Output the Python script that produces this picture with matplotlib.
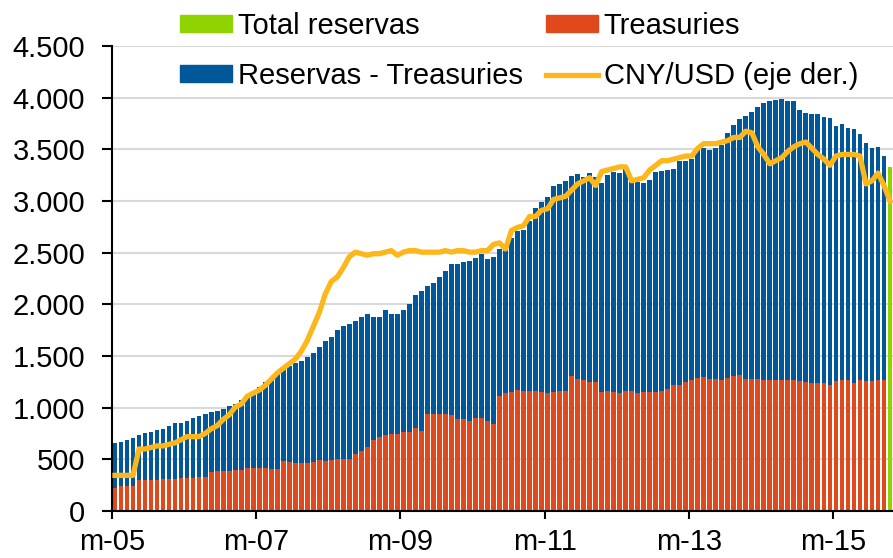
import numpy as np
import matplotlib.pyplot as plt
from matplotlib.ticker import FuncFormatter
from matplotlib.patches import Patch
from matplotlib.lines import Line2D

plt.rcParams['font.family'] = ['Liberation Sans', 'DejaVu Sans']

# meses: mar-05 ... dic-15
tick_labels = ["m-05", "m-07", "m-09", "m-11", "m-13", "m-15"]

# reservas totales (mm USD)
total = [661, 668, 690, 706, 732, 755, 768, 784, 794, 823, 848, 852, 874, 897, 923, 942, 955, 971, 990, 1013, 1035, 1071, 1116, 1160, 1200,
         1245, 1287, 1329, 1371, 1403, 1435, 1452, 1494, 1529, 1587, 1642, 1681, 1755, 1794, 1810, 1842, 1881, 1903, 1874, 1881, 1942, 1906, 1906, 1948, 2006,
         2087, 2129, 2174, 2210, 2268, 2326, 2390, 2394, 2413, 2419, 2445, 2487, 2435, 2455, 2535, 2558, 2645, 2706, 2719, 2803, 2929, 2990, 3039, 3142, 3165,
         3197, 3242, 3258, 3235, 3268, 3235, 3177, 3252, 3277, 3274, 3313, 3187, 3187, 3171, 3203, 3284, 3290, 3297, 3310, 3390, 3390, 3403, 3494, 3510, 3494,
         3510, 3545, 3661, 3735, 3790, 3823, 3865, 3913, 3945, 3971, 3977, 3987, 3968, 3968, 3881, 3848, 3842, 3839, 3810, 3800, 3729, 3745, 3703, 3694, 3648,
         3558, 3516, 3526, 3435, 3326]

# tenencia de Treasuries (sin dato el ultimo mes)
treasuries = [226, 239, 239, 239, 297, 300, 302, 304, 306, 309, 312, 315, 318, 322, 326, 330, 381, 387, 390, 392, 396, 398, 413, 415, 414,
              413, 406, 406, 481, 471, 468, 461, 461, 477, 494, 487, 490, 503, 503, 503, 552, 577, 619, 687, 716, 732, 742, 745, 768, 761,
              800, 774, 939, 935, 939, 939, 926, 894, 887, 874, 897, 897, 868, 842, 1116, 1139, 1152, 1171, 1161, 1158, 1158, 1152, 1142, 1152, 1158,
              1161, 1310, 1274, 1268, 1252, 1252, 1152, 1158, 1155, 1139, 1158, 1158, 1145, 1155, 1155, 1152, 1165, 1181, 1216, 1216, 1252, 1268, 1290, 1297, 1274,
              1274, 1268, 1290, 1303, 1313, 1274, 1274, 1274, 1271, 1268, 1268, 1268, 1268, 1268, 1261, 1252, 1242, 1242, 1235, 1223, 1261, 1268, 1268, 1235, 1268,
              1255, 1255, 1265, 1265]

# CNY por USD (eje derecho, invertido)
cny_usd = [8.27, 8.27, 8.27, 8.27, 8.10, 8.10, 8.09, 8.08, 8.08, 8.07, 8.06, 8.04, 8.02, 8.02, 8.02, 8.00, 7.97, 7.95, 7.91, 7.88, 7.83, 7.81, 7.76, 7.74, 7.72,
           7.69, 7.65, 7.61, 7.58, 7.55, 7.52, 7.47, 7.40, 7.31, 7.22, 7.10, 7.02, 6.99, 6.93, 6.86, 6.83, 6.84, 6.85, 6.84, 6.84, 6.83, 6.82, 6.85, 6.83, 6.82, 6.82, 6.83,
           6.83, 6.83, 6.83, 6.82, 6.83, 6.82, 6.82, 6.83, 6.83, 6.82, 6.82, 6.78, 6.77, 6.81, 6.69, 6.67, 6.66, 6.60, 6.60, 6.56, 6.55, 6.49, 6.48, 6.47, 6.43,
           6.39, 6.37, 6.35, 6.40, 6.31, 6.30, 6.29, 6.28, 6.28, 6.37, 6.36, 6.35, 6.30, 6.27, 6.24, 6.24, 6.23, 6.22, 6.21, 6.21, 6.16, 6.13, 6.13, 6.13, 6.12,
           6.11, 6.09, 6.09, 6.05, 6.06, 6.15, 6.20, 6.26, 6.24, 6.22, 6.18, 6.15, 6.13, 6.12, 6.16, 6.20, 6.23, 6.27, 6.21, 6.20, 6.20, 6.20, 6.21, 6.39, 6.37, 6.32, 6.40, 6.50]

c_blue = "#00589A"
c_red = "#E0491B"
c_green = "#8FD400"
c_line = "#FDB71A"

x = np.arange(len(total))
n_t = len(treasuries)
tr = np.array(treasuries)
resto = np.array(total[:n_t]) - tr

fig = plt.figure(figsize=(8.93, 5.58), dpi=100)
ax = fig.add_axes([0.1254, 0.0842, 0.8746, 0.8334])

ax.bar(x[:n_t], tr, width=0.8, color=c_red, zorder=2)
ax.bar(x[:n_t], resto, bottom=tr, width=0.8, color=c_blue, zorder=2)
ax.bar(x[n_t:], total[n_t:], width=0.8, color=c_green, zorder=2)

ax.set_xlim(-0.5, len(total) - 0.5)
ax.set_ylim(0, 4500)
ax.set_yticks(np.arange(0, 4501, 500))
ax.yaxis.set_major_formatter(FuncFormatter(lambda v, p: f"{v:,.0f}".replace(",", ".")))
ax.set_xticks(np.arange(0, len(total), 24) - 0.5)
ax.set_xticklabels(tick_labels)
ax.grid(axis='y', color='#D9D9D9', linewidth=1.5, zorder=0)
ax.set_axisbelow(True)
for s in ['top', 'right']:
    ax.spines[s].set_visible(False)
for s in ['left', 'bottom']:
    ax.spines[s].set_linewidth(1.5)
ax.tick_params(axis='both', labelsize=21, width=1.5, direction='out')
ax.tick_params(axis='x', length=6, pad=6)
ax.tick_params(axis='y', length=7.2, pad=12)

ax2 = ax.twinx()
ax2.plot(x, cny_usd, color=c_line, linewidth=3.8, solid_joinstyle='round')
ax2.set_ylim(8.5, 5.5)
ax2.axis('off')

handles = [Patch(color=c_green), Patch(color=c_blue), Patch(color=c_red),
           Line2D([], [], color=c_line, linewidth=3.8)]
labels = ["Total reservas", "Reservas - Treasuries", "Treasuries", "CNY/USD (eje der.)"]
ax.legend(handles, labels, ncol=2, frameon=False, fontsize=21,
          loc='upper left', bbox_to_anchor=(0.072, 1.098),
          handlelength=1.78, handleheight=0.51, handletextpad=0.2,
          labelspacing=0.75, columnspacing=0.8, borderaxespad=0)

fig.savefig("out.png", dpi=100)
